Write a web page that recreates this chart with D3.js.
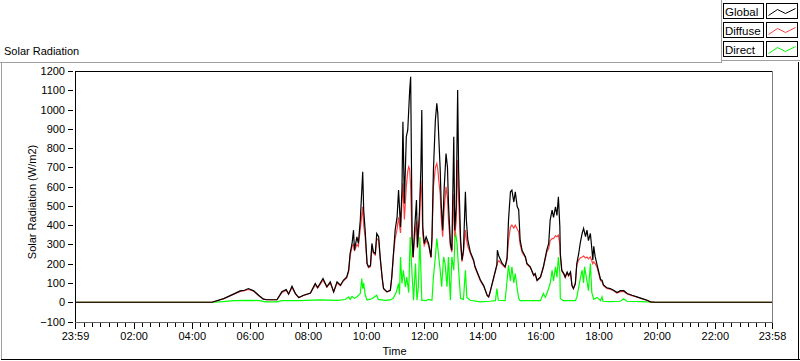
<!DOCTYPE html>
<html><head><meta charset="utf-8">
<script src="https://cdn.jsdelivr.net/npm/d3@7"></script>
<style>
html,body{margin:0;padding:0;background:#fff;}
svg{display:block;font-family:"Liberation Sans",Arial,sans-serif;}
</style></head>
<body><svg id="c" width="800" height="361"></svg>
<script>
// ---------- data ----------
const chartTitle = "Solar Radiation";
const yLabel = "Solar Radiation (W/m2)";
const xLabel = "Time";
const seriesNames = ["Global", "Diffuse", "Direct"];
const seriesColors = ["#000000", "#ff4040", "#00ff00"];
const xTickLabels = ["23:59","02:00","04:00","06:00","08:00","10:00","12:00","14:00","16:00","18:00","20:00","22:00","23:58"];
const yTickValues = [-100,0,100,200,300,400,500,600,700,800,900,1000,1100,1200];

const globalTimes = [
"23:59","04:42","05:06","05:26","05:40","05:49","05:57","06:08","06:18","06:28",
"06:35","06:56","07:06","07:15","07:20","07:27","07:34","07:41","07:51","08:05",
"08:15","08:20","08:31","08:39","08:46","08:53","09:00","09:07","09:13","09:20",
"09:24","09:27","09:31","09:34","09:36","09:41","09:44","09:48","09:53","09:55",
"09:58","10:02","10:05","10:09","10:12","10:15","10:19","10:22","10:26","10:29",
"10:33","10:36","10:43","10:50","10:53","10:57","11:00","11:04","11:07","11:11",
"11:14","11:16","11:19","11:23","11:26","11:28","11:30","11:32","11:35","11:37",
"11:40","11:44","11:46","11:50","11:53","11:55","11:57","12:00","12:04","12:09",
"12:14","12:16","12:19","12:23","12:26","12:28","12:30","12:33","12:35","12:38",
"12:41","12:45","12:48","12:50","12:54","12:57","13:01","13:03","13:06","13:09",
"13:11","13:15","13:18","13:21","13:25","13:27","13:30","13:35","13:42","13:45",
"13:52","13:56","14:03","14:10","14:13","14:16","14:23","14:30","14:31","14:34",
"14:41","14:47","14:51","14:54","14:58","15:01","15:05","15:08","15:12","15:15",
"15:18","15:22","15:29","15:32","15:39","15:46","15:49","15:53","16:00","16:06",
"16:13","16:17","16:20","16:24","16:27","16:31","16:34","16:37","16:40","16:41",
"16:44","16:48","16:51","16:55","16:58","17:02","17:05","17:08","17:12","17:15",
"17:19","17:22","17:26","17:29","17:33","17:36","17:39","17:43","17:46","17:48",
"17:50","17:53","17:57","18:04","18:07","18:10","18:17","18:24","18:31","18:38",
"18:45","18:52","18:59","19:09","19:19","19:30","19:40","19:47","19:57","23:58"];

const globalValues = [
0,0,19,42,59,62,71,59,36,16,
13,13,54,66,42,83,45,24,36,48,
97,76,123,80,106,54,106,88,114,131,
166,253,305,374,270,339,305,426,677,478,
374,201,184,190,305,261,253,357,339,235,
131,71,54,62,131,270,374,443,582,391,
582,937,513,859,894,997,1101,1170,339,235,
374,530,287,461,686,997,391,305,339,305,
235,339,686,945,1032,980,859,686,513,374,
582,772,700,513,305,270,859,374,495,1101,
686,330,218,270,573,426,322,262,218,184,
140,115,85,35,28,54,125,195,270,240,
201,184,230,426,573,582,520,573,495,480,
322,270,235,201,184,140,149,114,131,184,
270,305,426,478,440,495,450,547,391,253,
166,150,131,157,140,157,88,71,97,201,
253,305,357,383,340,374,320,357,279,220,
290,235,192,118,114,90,75,71,62,50,
60,60,45,36,28,19,10,2,0,0];

const diffuseValues = [
0,0,18,40,56,60,66,57,35,16,
13,13,50,62,42,76,44,24,35,46,
90,74,115,78,100,54,100,86,110,126,
160,240,290,300,265,300,290,380,495,400,
340,200,180,185,290,255,245,330,320,230,
128,70,54,60,128,260,330,380,440,360,
520,617,430,600,680,703,690,600,300,230,
330,420,280,400,634,560,350,295,320,295,
230,320,600,700,720,690,634,560,440,340,
478,599,540,430,290,260,560,340,420,738,
530,300,210,260,374,330,290,255,212,180,
136,110,82,35,28,52,120,190,205,215,
195,180,220,320,390,400,385,400,380,365,
300,260,230,198,180,138,145,112,128,180,
260,280,320,330,330,345,340,348,300,235,
160,146,128,150,136,150,86,70,95,195,
220,230,235,240,230,235,225,235,215,200,
210,200,180,112,108,86,72,68,60,48,
55,56,43,34,27,18,10,2,0,0];

const directTimes = [
"23:59","04:42","05:05","05:26","06:01","06:21","06:31","06:56","07:06","07:43",
"08:25","09:02","09:17","09:24","09:27","09:31","09:36","09:42","09:48","09:51",
"09:53","09:55","09:58","10:02","10:12","10:22","10:25","10:39","10:50","10:56",
"11:02","11:07","11:09","11:11","11:14","11:17","11:21","11:24","11:28","11:31",
"11:35","11:38","11:42","11:45","11:48","11:51","11:55","11:58","12:04","12:08",
"12:16","12:19","12:23","12:26","12:30","12:33","12:36","12:40","12:43","12:47",
"12:50","12:54","12:57","13:01","13:04","13:08","13:11","13:15","13:21","13:25",
"13:28","13:35","13:56","14:16","14:27","14:30","14:33","14:47","14:54","14:58",
"15:01","15:05","15:08","15:12","15:15","15:18","15:39","16:00","16:06","16:10",
"16:14","16:20","16:24","16:27","16:31","16:34","16:37","16:40","16:41","16:47",
"17:12","17:15","17:19","17:22","17:26","17:29","17:31","17:36","17:39","17:43",
"17:46","17:50","17:57","18:04","18:07","18:09","18:24","18:45","18:52","18:58",
"19:27","19:57","23:58"];

const directValues = [
0,0,3,8,10,8,2,2,8,8,
12,10,14,28,15,30,20,30,45,123,
70,100,40,12,18,36,15,10,12,20,
50,97,40,235,97,166,79,131,50,339,
140,10,201,10,80,339,10,10,8,15,
10,131,235,331,235,166,80,235,200,80,
235,10,235,166,374,300,166,20,15,166,
25,10,2,5,8,71,10,8,192,110,
184,100,149,70,20,8,8,8,45,25,
50,97,166,110,184,130,235,150,20,8,
8,25,80,120,166,100,184,110,60,201,
50,15,25,8,28,5,3,5,18,5,
3,0,0];

// ---------- helpers ----------
function toMin(s){
  const [h,m] = s.split(":").map(Number);
  const v = h*60+m;
  return v >= 1439 ? -1 : v;   // 23:59 is the previous-day start
}
function zip(times, vals){ return times.map((t,i)=>({t:toMin(t), v:vals[i]})); }

const svg = d3.select("#c");
const W = 800, H = 361;
const plot = {l:75, r:772, t:71, b:321.5};

svg.append("rect").attr("width",W).attr("height",H).attr("fill","#fff");

const x = d3.scaleLinear().domain([-1, 1438]).range([plot.l, plot.r]);
const y = d3.scaleLinear().domain([-100, 1200]).range([plot.b, plot.t]);

// outer frame
const fr = svg.append("g").attr("shape-rendering","crispEdges");
fr.append("line").attr("x1",0).attr("x2",722).attr("y1",62.5).attr("y2",62.5).attr("stroke","#a0a0a0");
fr.append("line").attr("x1",1.5).attr("x2",1.5).attr("y1",62).attr("y2",360).attr("stroke","#a0a0a0");
fr.append("line").attr("x1",1).attr("x2",800).attr("y1",359.5).attr("y2",359.5).attr("stroke","#000");
fr.append("line").attr("x1",798.5).attr("x2",798.5).attr("y1",62).attr("y2",360).attr("stroke","#000");
// legend panel edges
fr.append("line").attr("x1",721.5).attr("x2",721.5).attr("y1",0).attr("y2",62).attr("stroke","#a0a0a0");
fr.append("line").attr("x1",721).attr("x2",800).attr("y1",60.5).attr("y2",60.5).attr("stroke","#a0a0a0");

// title
svg.append("text").attr("x",4).attr("y",55).attr("font-size",11).attr("fill","#000").text(chartTitle);

// plot background
svg.append("rect").attr("x",plot.l).attr("y",plot.t).attr("width",plot.r-plot.l).attr("height",plot.b-plot.t).attr("fill","#fff");

// clip
svg.append("clipPath").attr("id","clip").append("rect")
  .attr("x",plot.l+1).attr("y",plot.t+1).attr("width",plot.r-plot.l-1).attr("height",plot.b-plot.t-1);

// y axis
const yAxis = d3.axisLeft(y).tickValues(yTickValues).tickSize(5).tickPadding(3).tickFormat(d3.format("d"));
const gy = svg.append("g").attr("transform",`translate(${plot.l - 2},0)`).call(yAxis);
gy.select(".domain").remove();
gy.selectAll("line").attr("stroke","#000").attr("shape-rendering","crispEdges");
gy.selectAll("text").attr("font-size",11).attr("font-family","Liberation Sans, Arial, sans-serif").attr("fill","#000");

// x axis: major + minor ticks
const majorVals = xTickLabels.map(toMin);
const step = 120/7;
const minorVals = [];
for (let m = 120; m <= 1438; m += step) minorVals.push(m);
for (let m = 120 - step; m >= -1; m -= step) minorVals.push(m);

const gxMinor = svg.append("g").attr("transform",`translate(0,${plot.b+1})`)
  .call(d3.axisBottom(x).tickValues(minorVals).tickSize(4).tickFormat(""));
gxMinor.select(".domain").remove();
gxMinor.selectAll("line").attr("stroke","#000").attr("shape-rendering","crispEdges");

const gx = svg.append("g").attr("transform",`translate(0,${plot.b+1})`)
  .call(d3.axisBottom(x).tickValues(majorVals).tickSize(6).tickPadding(4)
    .tickFormat((d,i)=>xTickLabels[i]));
gx.select(".domain").remove();
gx.selectAll("line").attr("stroke","#000").attr("stroke-width",1).attr("shape-rendering","crispEdges");
gx.selectAll("text").attr("font-size",11).attr("font-family","Liberation Sans, Arial, sans-serif").attr("fill","#000");

// plot border (sunken look)
const pb = svg.append("g").attr("shape-rendering","crispEdges");
pb.append("line").attr("x1",plot.l).attr("x2",plot.r).attr("y1",plot.t).attr("y2",plot.t).attr("stroke","#000");
pb.append("line").attr("x1",plot.l).attr("x2",plot.l).attr("y1",plot.t).attr("y2",plot.b+1).attr("stroke","#000");
pb.append("line").attr("x1",plot.r).attr("x2",plot.r).attr("y1",plot.t).attr("y2",plot.b+1).attr("stroke","#808080");
pb.append("line").attr("x1",plot.l).attr("x2",plot.r).attr("y1",plot.b+0.5).attr("y2",plot.b+0.5).attr("stroke","#606060");

// axis titles
svg.append("text").attr("transform",`translate(36,202) rotate(-90)`).attr("text-anchor","middle")
  .attr("font-size",11).attr("fill","#000").text(yLabel);
svg.append("text").attr("x",(plot.l+plot.r)/2 - 29).attr("y",355).attr("text-anchor","middle")
  .attr("font-size",11).attr("fill","#000").text(xLabel);

// series
const line = d3.line().x(d=>x(d.t)).y(d=>y(d.v));
const gl = svg.append("g").attr("clip-path","url(#clip)");
const data = [zip(globalTimes, globalValues), zip(globalTimes, diffuseValues), zip(directTimes, directValues)];
[2,1,0].forEach(i=>{
  gl.append("path").datum(data[i]).attr("d",line).attr("fill","none")
    .attr("stroke",seriesColors[i]).attr("stroke-width",1.2).attr("stroke-linejoin","miter");
});

// legend
const lg = svg.append("g");
const swatchPts = [[2,12],[11,6],[19,10],[29,5]];
seriesNames.forEach((n,i)=>{
  const yy = 3.5 + i*19;
  lg.append("rect").attr("x",723.5).attr("y",yy).attr("width",40).attr("height",15)
    .attr("fill","#fff").attr("stroke","#000").attr("shape-rendering","crispEdges");
  lg.append("text").attr("x",725).attr("y",yy+12).attr("font-size",11.5).attr("fill","#000").text(n);
  lg.append("rect").attr("x",766.5).attr("y",yy).attr("width",31).attr("height",15)
    .attr("fill","#fff").attr("stroke","#000").attr("shape-rendering","crispEdges");
  lg.append("path").attr("d", d3.line()(swatchPts.map(p=>[766.5+p[0], yy+p[1]])))
    .attr("fill","none").attr("stroke",seriesColors[i]).attr("stroke-width",1);
});
</script>
</body></html>
